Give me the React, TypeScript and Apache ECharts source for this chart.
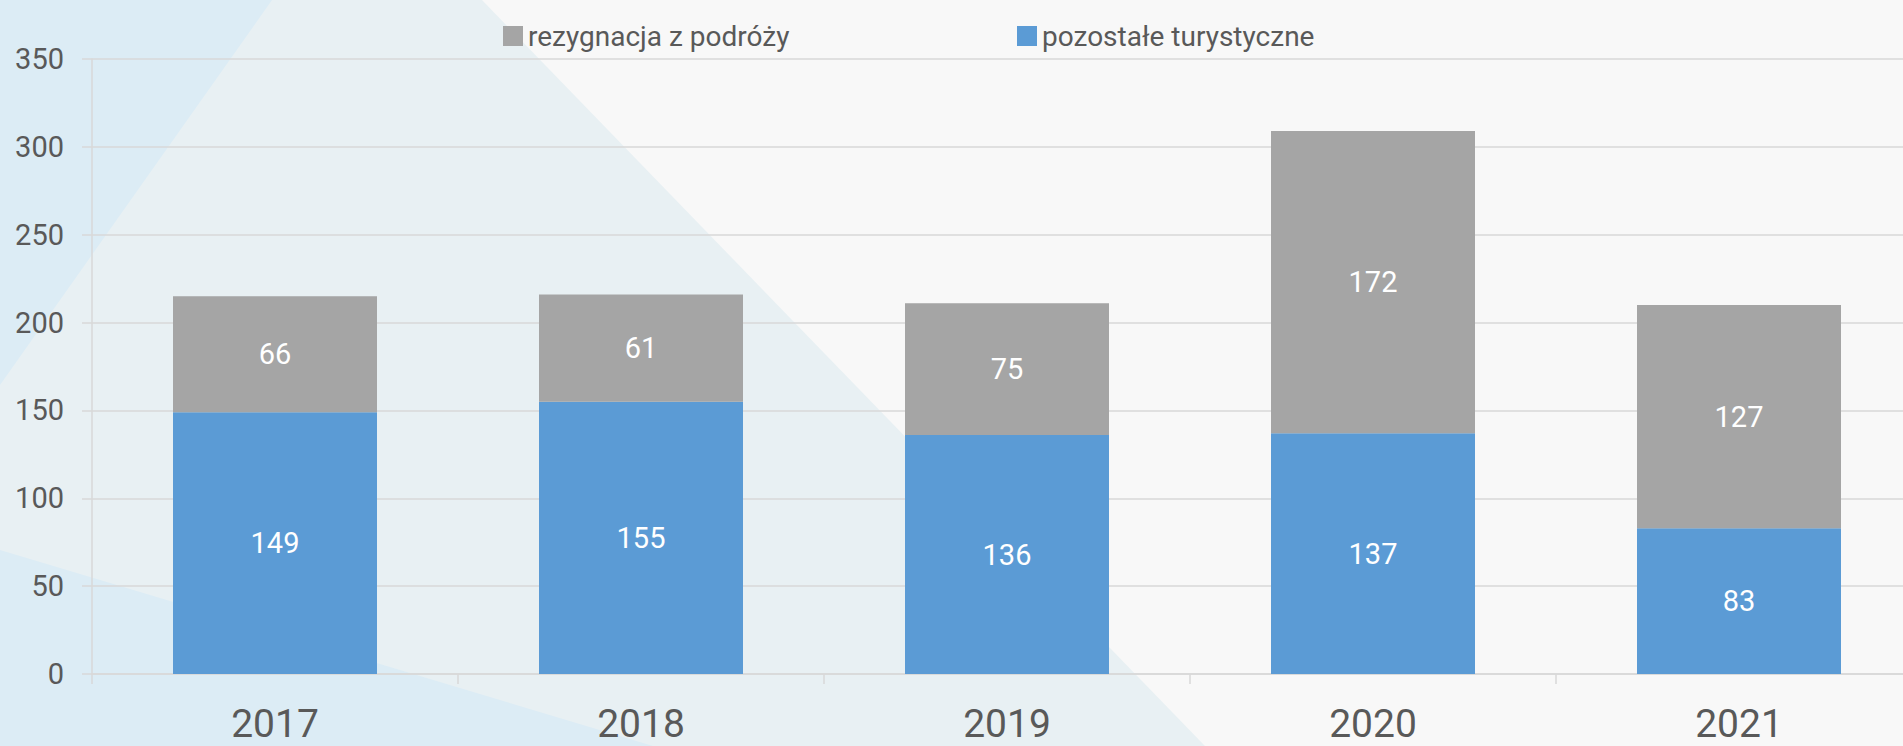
import React, { useEffect, useRef } from "react";
import * as echarts from "echarts";

const categories = ["2017", "2018", "2019", "2020", "2021"];
const pozostaleTurystyczne = [149, 155, 136, 137, 83];
const rezygnacjaZPodrozy = [66, 61, 75, 172, 127];
const seriesNames = ["pozostałe turystyczne", "rezygnacja z podróży"];
const yMin = 0;
const yMax = 350;
const yInterval = 50;

const FONT = "Roboto, 'Noto Sans', sans-serif";
const TEXT = "#595959";
const BLUE = "#5b9bd5";
const GREY = "#a5a5a5";
const GRID = "#d9d9d9";

export default function App() {
  const ref = useRef<HTMLDivElement>(null);

  useEffect(() => {
    if (!ref.current) return;
    const chart = echarts.init(ref.current, null, { renderer: "svg" });
    const legendText = { color: TEXT, fontSize: 28, fontFamily: FONT };
    const barLabel = {
      show: true,
      position: "inside",
      color: "#ffffff",
      fontSize: 29,
      fontFamily: FONT,
    };
    chart.setOption({
      animation: false,
      backgroundColor: "#f8f8f8",
      graphic: {
        elements: [
          {
            type: "polygon",
            silent: true,
            z: -10,
            shape: { points: [[0, 0], [482, 0], [1205, 746], [0, 746]] },
            style: { fill: "#e8f0f3" },
          },
          {
            type: "polygon",
            silent: true,
            z: -9,
            shape: { points: [[0, 0], [272, 0], [0, 385]] },
            style: { fill: "#dcecf5" },
          },
          {
            type: "polygon",
            silent: true,
            z: -9,
            shape: { points: [[0, 550], [500, 700], [653, 746], [0, 746]] },
            style: { fill: "#dcecf5" },
          },
        ],
      },
      legend: [
        {
          data: [seriesNames[1]],
          left: 498,
          top: 17,
          itemWidth: 20,
          itemHeight: 20,
          icon: "rect",
          selectedMode: false,
          textStyle: legendText,
        },
        {
          data: [seriesNames[0]],
          left: 1012,
          top: 17,
          itemWidth: 20,
          itemHeight: 20,
          icon: "rect",
          selectedMode: false,
          textStyle: legendText,
        },
      ],
      grid: {
        left: 92,
        top: 59,
        width: 1830,
        height: 615,
        containLabel: false,
        outerBoundsMode: "none",
      },
      xAxis: {
        type: "category",
        data: categories,
        axisLine: { show: true, lineStyle: { color: GRID, width: 1.5 } },
        axisTick: { show: true, length: 10, lineStyle: { color: GRID, width: 1.5 } },
        axisLabel: {
          color: TEXT,
          fontSize: 39,
          lineHeight: 28,
          fontFamily: FONT,
          margin: 36,
        },
      },
      yAxis: {
        type: "value",
        min: yMin,
        max: yMax,
        interval: yInterval,
        axisLine: { show: true, lineStyle: { color: GRID, width: 1.5 } },
        axisTick: { show: true, length: 10, lineStyle: { color: GRID, width: 1.5 } },
        axisLabel: { color: TEXT, fontSize: 29, fontFamily: FONT, margin: 28 },
        splitLine: { show: true, lineStyle: { color: GRID, width: 1.5 } },
      },
      series: [
        {
          name: seriesNames[0],
          type: "bar",
          stack: "total",
          data: pozostaleTurystyczne,
          barWidth: 204,
          itemStyle: { color: BLUE },
          label: barLabel,
        },
        {
          name: seriesNames[1],
          type: "bar",
          stack: "total",
          data: rezygnacjaZPodrozy,
          barWidth: 204,
          itemStyle: { color: GREY },
          label: barLabel,
        },
      ],
    });
    return () => chart.dispose();
  }, []);

  return (
    <div
      ref={ref}
      style={{ position: "fixed", left: 0, top: 0, width: 1903, height: 746 }}
    />
  );
}
